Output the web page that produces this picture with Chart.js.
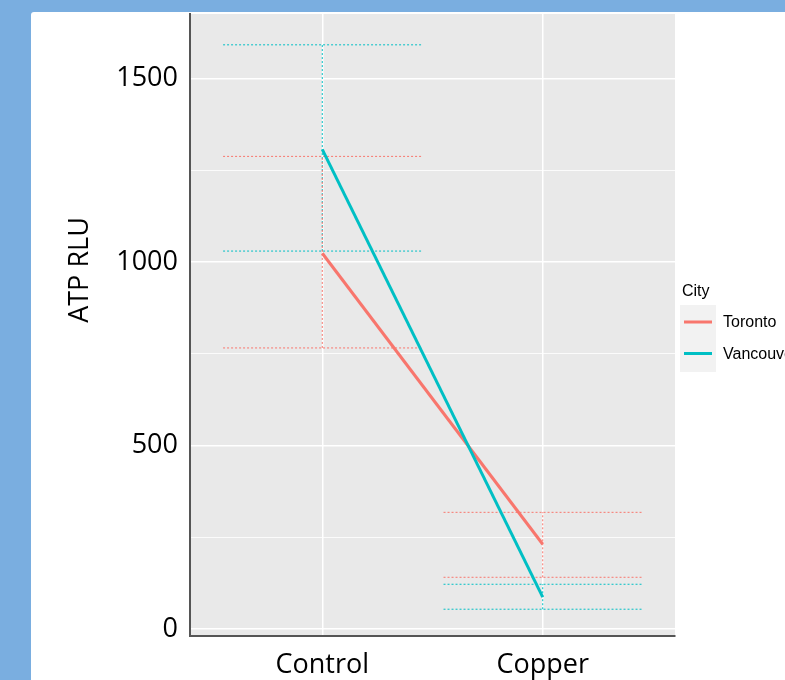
<!DOCTYPE html>
<html>
<head>
<meta charset="utf-8">
<script src="https://cdn.jsdelivr.net/npm/chart.js@4.4.1/dist/chart.umd.min.js"></script>
<style>
  html, body { margin: 0; padding: 0; }
  body { width: 785px; height: 680px; background: #7aaee0; position: relative; overflow: hidden; }
  #panel { position: absolute; left: 31px; top: 12px; width: 770px; height: 680px; background: #fff; border-top-left-radius: 3px; }
  #wrap { position: absolute; left: 0; top: 0; width: 785px; height: 680px; }
</style>
</head>
<body>
<div id="panel"></div>
<div id="wrap"><canvas id="atpChart" width="785" height="680"></canvas></div>
<script>
  const treatments = ['Control', 'Copper'];
  const cities = ['Toronto', 'Vancouver'];
  const cityColors = ['#F8766D', '#00BFC4'];

  // mean ATP RLU per treatment
  const torontoMean = [1024, 231];
  const vancouverMean = [1307, 87];
  // error bar ends
  const torontoLow = [766, 141];
  const torontoHigh = [1288, 318];
  const vancouverLow = [1030, 54];
  const vancouverHigh = [1592, 122];

  const yTicks = [0, 500, 1000, 1500];
  const yMinorTicks = [250, 750, 1250];

  const means = [torontoMean, vancouverMean];
  const lows = [torontoLow, vancouverLow];
  const highs = [torontoHigh, vancouverHigh];
  const barHalf = 0.45;

  const datasets = [];

  // mean lines (Vancouver drawn on top)
  cities.forEach((city, c) => {
    datasets.push({
      label: city,
      data: means[c].map((v, i) => ({ x: i + 1, y: v })),
      borderColor: cityColors[c],
      borderWidth: 3,
      pointRadius: 0,
      order: c === 1 ? 0 : 1
    });
  });

  // dotted error bars
  cities.forEach((city, c) => {
    treatments.forEach((t, i) => {
      const x = i + 1;
      const segs = [
        [{ x: x - barHalf, y: highs[c][i] }, { x: x + barHalf, y: highs[c][i] }],
        [{ x: x - barHalf, y: lows[c][i] }, { x: x + barHalf, y: lows[c][i] }],
        [{ x: x, y: lows[c][i] }, { x: x, y: highs[c][i] }]
      ];
      segs.forEach(seg => {
        datasets.push({
          label: city + ' err',
          data: seg,
          borderColor: cityColors[c],
          borderWidth: 1,
          borderDash: [2, 2],
          pointRadius: 0,
          order: 5
        });
      });
    });
  });

  const panelBg = {
    id: 'panelBg',
    beforeDraw(chart) {
      const { ctx, chartArea: a } = chart;
      ctx.save();
      ctx.fillStyle = '#E9E9E9';
      ctx.fillRect(a.left, a.top, a.right - a.left, a.bottom - a.top);
      ctx.restore();
    }
  };

  const extras = {
    id: 'extras',
    afterDraw(chart) {
      const { ctx } = chart;
      ctx.save();
      // y axis title
      ctx.fillStyle = '#000';
      ctx.font = '27px "Open Sans"';
      ctx.textAlign = 'center';
      ctx.textBaseline = 'middle';
      ctx.translate(80, 270);
      ctx.rotate(-Math.PI / 2);
      ctx.fillText('ATP RLU', 0, 0);
      ctx.restore();

      // legend
      ctx.save();
      ctx.font = '16px "Liberation Sans", Arial, sans-serif';
      ctx.fillStyle = '#000';
      ctx.textAlign = 'left';
      ctx.textBaseline = 'alphabetic';
      ctx.fillText('City', 682, 296);
      ctx.fillStyle = '#F2F2F2';
      ctx.fillRect(680, 305, 36, 67);
      cities.forEach((city, c) => {
        const y = 322 + c * 31.5;
        ctx.strokeStyle = cityColors[c];
        ctx.lineWidth = 3;
        ctx.beginPath();
        ctx.moveTo(684, y);
        ctx.lineTo(712, y);
        ctx.stroke();
        ctx.fillStyle = '#000';
        ctx.textBaseline = 'middle';
        ctx.fillText(city, 723, y + 1);
      });
      ctx.restore();
    }
  };

  function noPad(scale) {
    scale.paddingTop = 0;
    scale.paddingBottom = 0;
    scale.paddingLeft = 0;
    scale.paddingRight = 0;
  }

  new Chart(document.getElementById('atpChart'), {
    type: 'line',
    data: { datasets },
    plugins: [panelBg, extras],
    options: {
      responsive: false,
      animation: false,
      layout: { padding: { left: 0, top: 14, right: 110, bottom: 0 } },
      plugins: { legend: { display: false }, tooltip: { enabled: false } },
      scales: {
        x: {
          type: 'linear',
          min: 0.4,
          max: 2.6,
          afterBuildTicks: scale => {
            scale.ticks = treatments.map((t, i) => ({ value: i + 1 }));
          },
          afterFit: scale => { scale.height = 44; noPad(scale); },
          ticks: {
            callback: v => treatments[v - 1],
            color: '#000',
            font: { family: '"Open Sans"', size: 27 },
            padding: 13,
            maxRotation: 0
          },
          grid: { color: '#fff', lineWidth: 1.5, drawTicks: false },
          border: { display: true, color: '#555', width: 2 }
        },
        y: {
          type: 'linear',
          min: -19,
          max: 1676,
          afterBuildTicks: scale => {
            scale.ticks = yTicks.concat(yMinorTicks).sort((a, b) => a - b).map(v => ({ value: v }));
          },
          afterFit: scale => { scale.width = 190; noPad(scale); },
          ticks: {
            callback: v => (yTicks.includes(v) ? String(v) : ''),
            color: '#000',
            font: { family: '"Open Sans"', size: 27 },
            padding: 12
          },
          grid: {
            color: '#fff',
            lineWidth: ctx => (ctx.tick && yTicks.includes(ctx.tick.value) ? 1.5 : 0.8),
            drawTicks: false
          },
          border: { display: true, color: '#555', width: 2 }
        }
      }
    }
  });
</script>
</body>
</html>
